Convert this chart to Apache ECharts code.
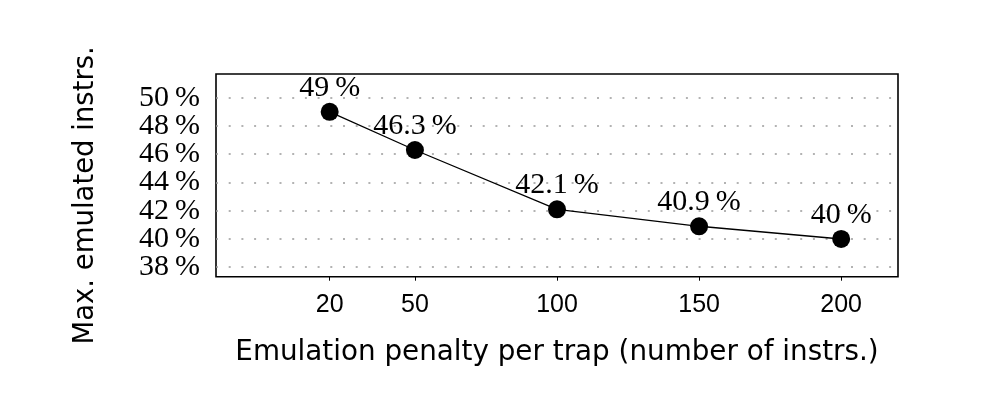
<!DOCTYPE html>
<html><head><meta charset="utf-8">
<script src="https://cdn.jsdelivr.net/npm/echarts@6/dist/echarts.min.js"></script>
<style>html,body{margin:0;padding:0;background:#fff}#c{width:1000px;height:404px}</style>
</head><body><div id="c"></div>
<script>
const penalties = [20, 50, 100, 150, 200];
const maxEmulated = [49, 46.3, 42.1, 40.9, 40];
const xTicks = [20, 50, 100, 150, 200];
const yTicks = [38, 40, 42, 44, 46, 48, 50];
const xTitle = 'Emulation penalty per trap (number of instrs.)';
const yTitle = 'Max. emulated instrs.';

const serif = 'Liberation Serif';
const sans = 'Liberation Sans';
const titleFont = 'DejaVu Sans';
const pct = v => String(v) + '\u2009%';

const chart = echarts.init(document.getElementById('c'));
chart.setOption({
  animation: false,
  backgroundColor: '#fff',
  grid: {left: 216, right: 102, top: 74, bottom: 127.3, show: true, borderColor: '#000', borderWidth: 1.6, backgroundColor: 'transparent'},
  xAxis: {
    type: 'value', min: -20, max: 220,
    axisLine: {show: false},
    splitLine: {show: false},
    axisTick: {show: true, customValues: xTicks, length: 4, inside: false, lineStyle: {color: '#000', width: 1}},
    axisLabel: {customValues: xTicks, margin: 16, fontFamily: sans, fontSize: 25, color: '#000', hideOverlap: false},
    name: xTitle, nameLocation: 'middle', nameGap: 62,
    nameTextStyle: {fontFamily: titleFont, fontSize: 27.8, color: '#000'}
  },
  yAxis: {
    type: 'value', min: 37.33, max: 51.68,
    axisLine: {show: false},
    splitLine: {show: false},
    axisTick: {show: false},
    axisLabel: {show: false},
    name: yTitle, nameLocation: 'middle', nameRotate: 90, nameGap: 116,
    nameTextStyle: {fontFamily: titleFont, fontSize: 27.5, color: '#000', padding: [0, 40, 0, 0]}
  },
  series: [{
    type: 'line',
    data: penalties.map((p, i) => [p, maxEmulated[i]]),
    symbol: 'circle', symbolSize: 18,
    itemStyle: {color: '#000'},
    lineStyle: {color: '#000', width: 1.3},
    label: {show: true, position: 'top', distance: 0, fontFamily: serif, fontSize: 30, color: '#000', formatter: p => pct(p.value[1])},
    z: 3,
    markLine: {
      silent: true, symbol: 'none', animation: false,
      label: {show: true, position: 'start', distance: 16, fontFamily: serif, fontSize: 30, color: '#000', formatter: p => pct(p.value)},
      lineStyle: {color: '#9a9a9a', type: [2, 10.7], width: 1.6},
      emphasis: {disabled: true},
      data: yTicks.map(v => ({yAxis: v})),
      z: 1
    }
  }]
});
</script></body></html>
